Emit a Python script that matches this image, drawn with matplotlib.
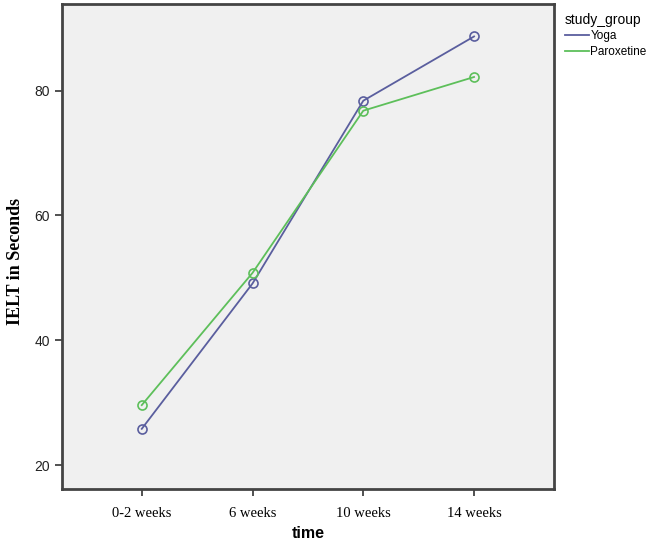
import matplotlib
matplotlib.use('Agg')
import matplotlib.pyplot as plt
from matplotlib.lines import Line2D

# values
time_labels = ['0-2 weeks', '6 weeks', '10 weeks', '14 weeks']
yoga = [25.8, 49.1, 78.4, 88.7]
paroxetine = [29.6, 50.8, 76.8, 82.2]
groups = ['Yoga', 'Paroxetine']
colors = ['#5a5e9e', '#5dbf5a']

fig = plt.figure(figsize=(6.5, 5.43), dpi=100)
ax = fig.add_axes([0.0954, 0.0994, 0.7566, 0.8932])
ax.set_facecolor('#f0f0f0')

x = range(len(time_labels))
for vals, c in zip([yoga, paroxetine], colors):
    ax.plot(x, vals, color=c, lw=1.3, marker='o', ms=6.5,
            mfc='none', mec=c, mew=1.2)

ax.set_xlim(-0.72, 3.72)
ax.set_ylim(16.15, 93.9)
ax.set_yticks([20, 40, 60, 80])
ax.set_xticks(list(x))
ax.set_xticklabels(time_labels, family='Liberation Serif', fontsize=10.5)
ax.tick_params(axis='y', labelsize=10, length=5, width=1.2, color='#333333',
               labelcolor='#222222')
ax.tick_params(axis='x', length=5, width=1.2, color='#333333', pad=8)
for lab in ax.get_yticklabels():
    lab.set_family('Liberation Sans')

for s in ax.spines.values():
    s.set_linewidth(2)
    s.set_color('#444444')

ax.set_ylabel('IELT in Seconds', family='Liberation Serif', fontweight='bold',
              fontsize=13)
ax.yaxis.set_label_coords(-0.077, 0.47)
ax.set_xlabel('time', family='Liberation Sans', fontweight='bold',
              fontsize=11.5, labelpad=4)

handles = [Line2D([], [], color=c, lw=1.3) for c in colors]
leg = fig.legend(handles, groups, title='study_group', loc='upper left',
                 bbox_to_anchor=(0.862, 0.985), frameon=False,
                 prop={'family': 'Liberation Sans', 'size': 8.5},
                 handlelength=2.0, handletextpad=0.15, borderaxespad=0,
                 labelspacing=0.3, alignment='left')
leg.get_title().set_family('Liberation Sans')
leg.get_title().set_fontsize(10)

fig.savefig('out.png', dpi=100)
